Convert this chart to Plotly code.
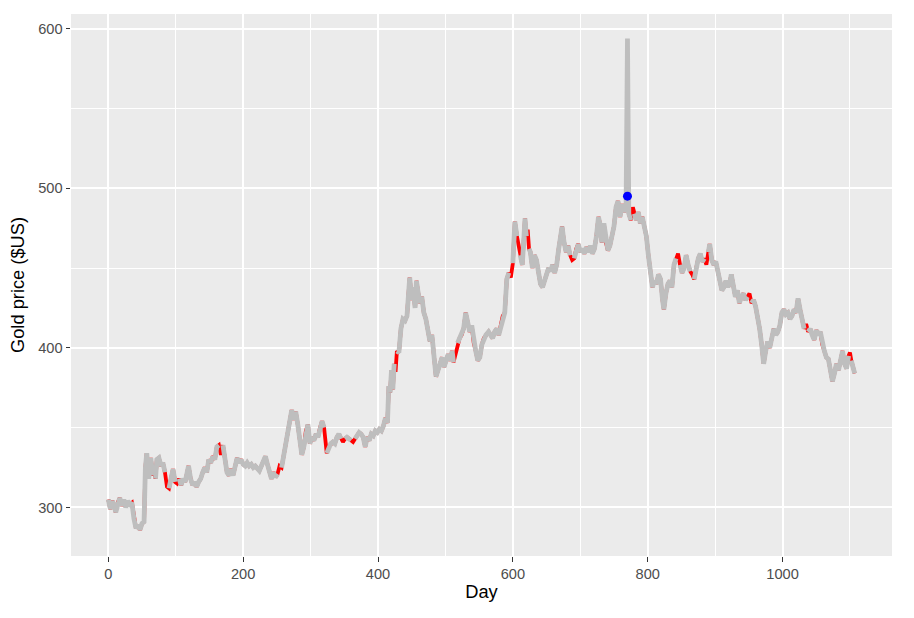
import plotly.graph_objects as go

day = [
    0, 3, 6, 9, 11, 14, 17, 20, 23, 26, 29, 32, 35, 38, 41, 44, 47, 50, 53, 55,
    57, 60, 63, 66, 68, 70, 72, 75, 78, 81, 84, 87, 90, 93, 96, 99, 102, 105, 108, 111,
    114, 117, 119, 122, 125, 128, 131, 134, 137, 140, 143, 146, 149, 152, 155, 158, 161, 164, 167, 170,
    173, 176, 179, 182, 185, 188, 191, 194, 197, 200, 203, 206, 209, 212, 215, 218, 221, 224, 227, 230,
    233, 236, 239, 242, 245, 248, 251, 254, 257, 260, 263, 266, 269, 272, 275, 278, 281, 284, 287, 290,
    293, 296, 299, 302, 305, 308, 311, 314, 317, 320, 322, 324, 327, 330, 333, 336, 339, 342, 345, 348,
    351, 354, 357, 360, 363, 366, 369, 372, 375, 378, 381, 384, 387, 390, 393, 396, 399, 402, 405, 408,
    411, 414, 416, 418, 420, 422, 424, 426, 428, 431, 434, 437, 440, 443, 445, 447, 450, 452, 455, 457,
    459, 462, 465, 468, 471, 474, 477, 480, 483, 486, 489, 492, 495, 498, 501, 504, 507, 510, 512, 515,
    518, 521, 524, 527, 530, 533, 536, 539, 542, 545, 548, 551, 554, 557, 560, 564,
    567, 570, 573, 576, 579, 582, 585, 588, 591, 594, 597, 600, 603, 606, 608, 611, 614, 616, 618, 620,
    622, 624, 626, 629, 632, 635, 638, 641, 644, 647, 650, 653, 656, 659, 662, 665, 668, 671, 673, 676,
    679, 682, 685, 688, 691, 694, 697, 700, 703, 706, 709, 712, 715, 718, 721, 724, 727, 729, 732, 735,
    738, 741, 744, 747, 750, 753, 756, 759, 762, 765, 768, 770, 772, 775, 778, 780, 783, 786, 789, 792,
    795, 798, 801, 804, 807, 810, 813, 816, 819, 822, 824, 827, 830, 833, 836, 839, 842, 845, 848, 851,
    854, 857, 860, 863, 866, 869, 872, 875, 878, 881, 884, 887, 890, 892, 895, 898, 901, 904, 907, 910,
    913, 916, 919, 922, 924, 927, 930, 933, 936, 939, 942, 945, 948, 951, 954, 957, 960, 963, 966, 969,
    972, 975, 978, 981, 984, 987, 990, 993, 996, 999, 1002, 1005, 1008, 1011, 1014, 1017, 1020, 1023, 1026, 1029,
    1032, 1035, 1038, 1041, 1044, 1047, 1050, 1053, 1056, 1059, 1062, 1065, 1068, 1071, 1074, 1077, 1080, 1083, 1086, 1089,
    1092, 1095, 1098, 1100, 1102, 1105, 1107,
]

price = [
    305, 299, 304, 301, 297, 303, 306, 301, 305, 300, 304, 302, 303, 293, 287, 289, 286, 290, 291, 325,
    334, 318, 331, 320, 323, 318, 330, 331, 326, 328, 322, 313, 312, 318, 324, 316, 315, 318, 314, 318,
    316, 322, 326, 318, 314, 316, 313, 316, 318, 322, 325, 322, 330, 328, 332, 330, 338, 339, 333, 339,
    330, 322, 320, 324, 320, 326, 331, 328, 330, 327, 326, 328, 326, 327, 325, 326, 324, 323, 326, 329,
    332, 327, 322, 318, 322, 319, 321, 326, 325, 332, 338, 345, 355, 361, 355, 360, 352, 343, 333, 338,
    348, 352, 340, 344, 342, 346, 344, 350, 354, 350, 342, 334, 338, 340, 341, 340, 344, 346, 343, 341,
    343, 344, 343, 342, 341, 343, 345, 347, 346, 344, 338, 344, 342, 346, 345, 348, 347, 349, 348, 351,
    356, 353, 376, 372, 386, 374, 390, 385, 398, 397, 412, 418, 417, 420, 432, 444, 430, 438, 425, 442,
    436, 428, 432, 422, 418, 410, 404, 408, 392, 382, 386, 390, 394, 388, 392, 396, 392, 398, 391, 396,
    403, 406, 408, 412, 422, 416, 410, 414, 403, 398, 392, 394, 402, 406, 408, 410,
    408, 406, 410, 412, 408, 413, 420, 422, 443, 447, 444, 453, 479, 470, 465, 458, 452, 466, 481, 470,
    474, 462, 460, 450, 458, 455, 446, 440, 438, 442, 446, 450, 448, 452, 447, 452, 462, 472, 476, 466,
    460, 464, 458, 455, 456, 462, 465, 460, 462, 459, 463, 460, 464, 459, 462, 470, 482, 478, 466, 478,
    466, 461, 464, 470, 476, 488, 492, 482, 490, 485, 490, 593.7, 484, 480, 488, 484, 480, 485, 478, 482,
    476, 470, 458, 446, 438, 442, 440, 446, 443, 430, 424, 434, 440, 442, 438, 452, 456, 459, 452, 447,
    450, 458, 452, 448, 446, 443, 450, 456, 459, 454, 456, 452, 460, 465, 455, 452, 454, 448, 440, 436,
    438, 442, 438, 441, 446, 438, 432, 436, 428, 432, 434, 430, 432, 434, 428, 430, 426, 420, 412, 402,
    390, 398, 404, 400, 406, 412, 408, 410, 414, 422, 424, 421, 422, 418, 420, 424, 422, 431, 424, 418,
    412, 415, 410, 412, 408, 405, 411, 408, 410, 402, 398, 394, 393, 386, 379, 384, 390, 386, 392, 398,
    390, 387, 395, 397, 392, 386, 384,
]

# days where the original series has no value (red shows the interpolation)
missing_days = [68, 87, 102, 167, 254, 322, 348, 363, 426, 515, 597, 608, 622,
                688, 778, 845, 866, 887, 951, 1035, 1100]

# outlier and its replacement value
outlier_day = 770
replaced_price = 495

original = [None if d in missing_days else p for d, p in zip(day, price)]
interpolated = [replaced_price if d == outlier_day else p for d, p in zip(day, price)]

fig = go.Figure()

fig.add_trace(go.Scatter(
    x=day, y=interpolated, mode="lines",
    line=dict(color="#FF0000", width=3.8),
    hoverinfo="skip", showlegend=False,
))
fig.add_trace(go.Scatter(
    x=day, y=original, mode="lines",
    line=dict(color="#BEBEBE", width=4.8),
    connectgaps=False, showlegend=False,
))
fig.add_trace(go.Scatter(
    x=[outlier_day], y=[replaced_price], mode="markers",
    marker=dict(color="#0000FF", size=9),
    showlegend=False,
))

axis_common = dict(
    showgrid=True, gridcolor="white", gridwidth=1.5,
    zeroline=False, showline=False,
    ticks="outside", ticklen=4.5, tickwidth=1.3, tickcolor="#333333",
    tickfont=dict(family="Liberation Sans, Arial, sans-serif", size=14.6, color="#4D4D4D"),
)

fig.update_layout(
    width=914, height=618,
    margin=dict(l=71, r=22, t=14, b=62),
    paper_bgcolor="white",
    plot_bgcolor="#EBEBEB",
    font=dict(family="Liberation Sans, Arial, sans-serif", color="black"),
    xaxis=dict(
        axis_common,
        range=[-55.35, 1162.35],
        tick0=0, dtick=200,
        minor=dict(dtick=100, showgrid=True, gridcolor="white", gridwidth=0.75),
        title=dict(text="Day", font=dict(size=18.3, color="black"), standoff=4),
    ),
    yaxis=dict(
        axis_common,
        range=[269.6, 609.1],
        tick0=0, dtick=100,
        minor=dict(dtick=50, showgrid=True, gridcolor="white", gridwidth=0.75),
        title=dict(text="Gold price ($US)", font=dict(size=18.3, color="black"), standoff=8),
    ),
)

# drop the page's default body margin so the figure sits at the top-left corner
fig.write_html(
    "out.html",
    config={"displayModeBar": False},
    post_script="document.body.style.margin='0px';",
)
